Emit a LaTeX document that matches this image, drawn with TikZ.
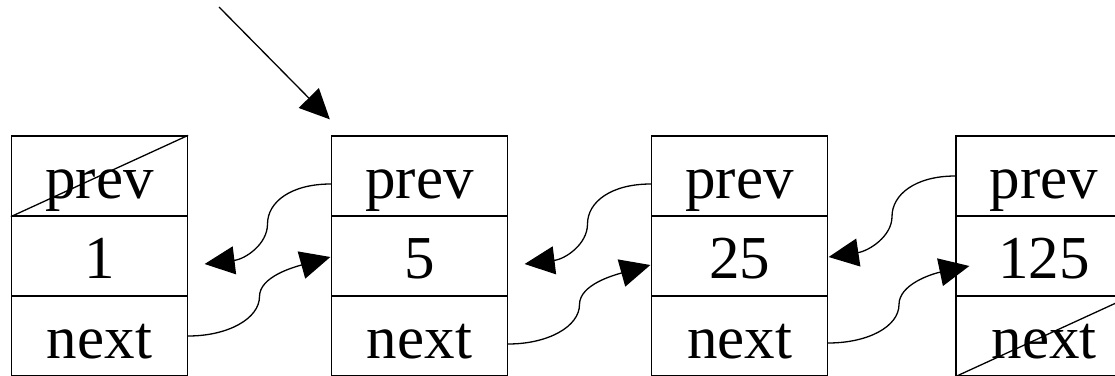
\documentclass[tikz,border=0pt]{standalone}
\usepackage{fontspec}
\setmainfont{Liberation Serif}
\usetikzlibrary{calc,arrows.meta}
\tikzset {>={Triangle[length=30pt,width=28pt]}}

\begin{document}
\begin{tikzpicture}[x=1pt,y=-1pt,line width=1.3pt,
  cell/.style={draw,minimum width=176pt,minimum height=80pt,inner sep=0pt,
    text height=44pt,text depth=0pt,font=\fontsize{61}{70}\selectfont}]
\useasboundingbox (0,0) rectangle (1115,375);
\clip (0,0) rectangle (1115,375);
% the four list records
\node[cell] (prev1) at (99.5,176)  {prev};
\node[cell] (val1)  at (99.5,256)  {1};
\node[cell] (next1) at (99.5,336)  {next};
\node[cell] (prev2) at (419.5,176) {prev};
\node[cell] (val2)  at (419.5,256) {5};
\node[cell] (next2) at (419.5,336) {next};
\node[cell] (prev3) at (739.5,176) {prev};
\node[cell] (val3)  at (739.5,256) {25};
\node[cell] (next3) at (739.5,336) {next};
\node[cell] (prev4) at (1044,176)  {prev};
\node[cell] (val4)  at (1044,256)  {125};
\node[cell] (next4) at (1044,336)  {next};
% null pointers at both ends
\draw (prev1.south west) -- (prev1.north east);
\draw (next4.south west) -- (next4.north east);
% head pointer
\coordinate (head) at (219,7);
\draw[->] (head) -- ($(prev2.north west)+(-1,-16)$);
% links between 1 and 5
\draw[->] ($(prev2.west)+(0,8)$) .. controls +(-40,0) and +(0,-22) .. (267.5,224)
  .. controls +(0,20) and +(41,-5) .. ($(val1.east)+(16.5,8)$);
\draw[->] (next1.east) .. controls +(40,0) and +(0,22) .. (259.5,296.5)
  .. controls +(0,-20) and +(-36,10) .. ($(val2.west)+(-0.5,1)$);
% links between 5 and 25
\draw[->] ($(prev3.west)+(0,8)$) .. controls +(-40,0) and +(0,-22) .. (587.5,224)
  .. controls +(0,20) and +(41,-5) .. ($(val2.east)+(16.5,8)$);
\draw[->] ($(next2.east)+(0,8)$) .. controls +(40,0) and +(0,22) .. (579.5,304.5)
  .. controls +(0,-20) and +(-36,10) .. ($(val3.west)+(-0.5,9)$);
% links between 25 and 125
\draw[->] (prev4.west) .. controls +(-40,0) and +(0,-22) .. (892,216.5)
  .. controls +(0,20) and +(40,-6) .. ($(val3.east)+(0.5,1)$);
\draw[->] ($(next3.east)+(0,7)$) .. controls +(40,0) and +(0,22) .. (899,304.5)
  .. controls +(0,-20) and +(-38,8) .. ($(val4.west)+(14,10)$);
\end{tikzpicture}
\end{document}
